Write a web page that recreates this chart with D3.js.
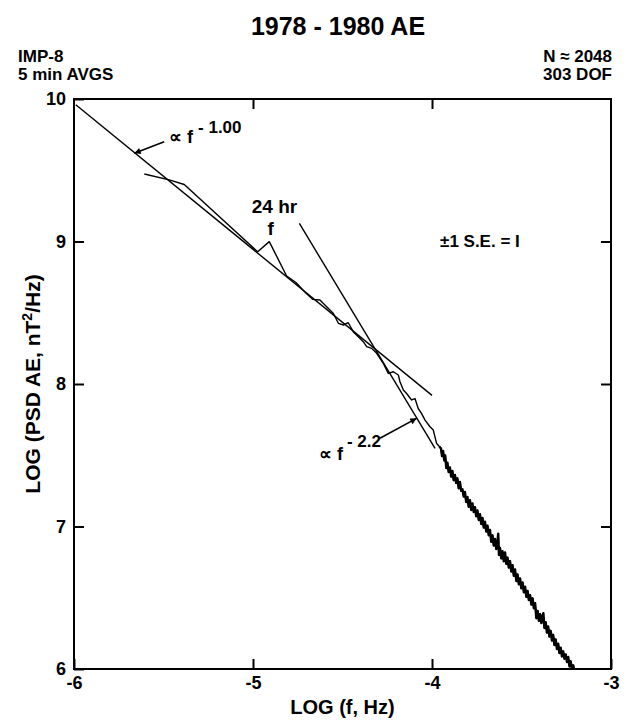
<!DOCTYPE html>
<html>
<head>
<meta charset="utf-8">
<script src="https://cdn.jsdelivr.net/npm/d3@7"></script>
<style>
  body { margin: 0; background: #fff; }
  svg text { font-family: "Liberation Sans", Arial, sans-serif; font-weight: bold; fill: #000; }
</style>
</head>
<body>
<script>
// spectrum (log10 f in Hz, log10 PSD in nT^2/Hz)
var logFreq = [
  -5.607, -5.468, -5.384, -4.974, -4.909, -4.812, -4.760, -4.712, -4.667, -4.626,
  -4.598, -4.551, -4.523, -4.495, -4.468, -4.440, -4.384, -4.365, -4.337, -4.309,
  -4.272, -4.244, -4.216, -4.188, -4.179, -4.160, -4.142, -4.114, -4.095, -4.077,
  -4.058, -4.039, -4.011, -3.993, -3.974, -3.958,
  -3.950, -3.944, -3.938, -3.931, -3.926, -3.920, -3.914, -3.907, -3.900, -3.893,
  -3.886, -3.879, -3.872, -3.865, -3.858, -3.851, -3.844, -3.837, -3.830, -3.823,
  -3.816, -3.809, -3.802, -3.795, -3.788, -3.781, -3.774, -3.767, -3.760, -3.753,
  -3.746, -3.739, -3.732, -3.725, -3.718, -3.711, -3.704, -3.697, -3.690, -3.683,
  -3.676, -3.669, -3.662, -3.655, -3.648, -3.641, -3.635, -3.630, -3.626, -3.620,
  -3.613, -3.606, -3.599, -3.592, -3.585, -3.578, -3.571, -3.564, -3.557, -3.550,
  -3.543, -3.536, -3.529, -3.522, -3.515, -3.508, -3.501, -3.494, -3.487, -3.480,
  -3.473, -3.466, -3.459, -3.452, -3.445, -3.438, -3.431, -3.424, -3.417, -3.410,
  -3.403, -3.396, -3.389, -3.383, -3.378, -3.372, -3.365, -3.358, -3.351, -3.344,
  -3.337, -3.330, -3.323, -3.316, -3.309, -3.302, -3.295, -3.288, -3.281, -3.274,
  -3.267, -3.260, -3.253, -3.246, -3.239, -3.232, -3.225, -3.218, -3.211, -3.204
];
var logPsd = [
  9.474, 9.432, 9.400, 8.928, 8.999, 8.758, 8.712, 8.648, 8.594, 8.589,
  8.554, 8.495, 8.426, 8.414, 8.430, 8.367, 8.297, 8.262, 8.250, 8.215,
  8.145, 8.074, 8.086, 8.063, 8.016, 7.958, 7.933, 7.888, 7.898, 7.828,
  7.792, 7.747, 7.700, 7.677, 7.582, 7.560,
  7.548, 7.495, 7.530, 7.462, 7.498, 7.410, 7.448, 7.382, 7.415, 7.350,
  7.390, 7.325, 7.362, 7.305, 7.338, 7.268, 7.312, 7.250, 7.262, 7.210,
  7.242, 7.172, 7.208, 7.138, 7.184, 7.116, 7.162, 7.102, 7.135, 7.072,
  7.112, 7.046, 7.086, 7.018, 7.060, 6.992, 7.034, 6.965, 7.006, 6.938,
  6.976, 6.892, 6.938, 6.866, 6.912, 6.842, 6.886, 6.950, 6.800, 6.850,
  6.776, 6.826, 6.756, 6.818, 6.738, 6.782, 6.712, 6.756, 6.684, 6.728,
  6.654, 6.698, 6.618, 6.664, 6.594, 6.636, 6.566, 6.608, 6.538, 6.578,
  6.506, 6.548, 6.484, 6.518, 6.452, 6.496, 6.426, 6.462, 6.356, 6.408,
  6.338, 6.384, 6.322, 6.366, 6.392, 6.288, 6.328, 6.255, 6.298, 6.228,
  6.268, 6.200, 6.240, 6.168, 6.208, 6.140, 6.178, 6.112, 6.150, 6.088,
  6.124, 6.072, 6.102, 6.048, 6.084, 6.018, 6.054, 5.996, 6.026, 5.980
];

// power-law fits drawn on the figure
var fitLowFreq = [-5.99, -4.0];      // ~ f^-1.00
var fitLowPsd = [9.96, 7.92];
var fitHighFreq = [-4.741, -3.983];  // ~ f^-2.2
var fitHighPsd = [9.127, 7.548];

var xTicks = [-6, -5, -4, -3];
var yTicks = [6, 7, 8, 9, 10];

var margin = { top: 99, right: 19, bottom: 53, left: 74 };
var W = 630, H = 722;
var width = W - margin.left - margin.right;
var height = H - margin.top - margin.bottom;

var x = d3.scaleLinear().domain([-6, -3]).range([0, width]);
var y = d3.scaleLinear().domain([6, 10]).range([height, 0]);

var svg = d3.select("body").append("svg")
  .attr("width", W)
  .attr("height", H);

var g = svg.append("g")
  .attr("transform", "translate(" + margin.left + "," + margin.top + ")");

svg.append("defs").append("clipPath").attr("id", "plot")
  .append("rect").attr("width", width).attr("height", height);

svg.select("defs").append("marker")
  .attr("id", "head")
  .attr("viewBox", "0 0 10 10")
  .attr("refX", 10).attr("refY", 5)
  .attr("markerWidth", 6).attr("markerHeight", 4)
  .attr("orient", "auto")
  .append("path").attr("d", "M0,0L10,5L0,10z").attr("fill", "#000");

var fmt = function (d) { return String(d); };

// axes, ticks pointing inward
var xAxis = d3.axisBottom(x).tickValues(xTicks).tickFormat(fmt).tickSize(-10).tickSizeOuter(0).tickPadding(7);
var yAxis = d3.axisLeft(y).tickValues(yTicks).tickFormat(fmt).tickSize(-10).tickSizeOuter(0).tickPadding(8);

g.append("g").attr("class", "x axis")
  .attr("transform", "translate(0," + height + ")")
  .call(xAxis);
g.append("g").attr("class", "y axis").call(yAxis);
g.append("g").attr("class", "x2 axis")
  .call(d3.axisTop(x).tickValues([-5, -4]).tickFormat("").tickSize(-10).tickSizeOuter(0));
g.append("g").attr("class", "y2 axis")
  .attr("transform", "translate(" + width + ",0)")
  .call(d3.axisRight(y).tickValues([7, 8, 9]).tickFormat("").tickSize(-10).tickSizeOuter(0));

g.selectAll(".axis .domain").remove();
g.selectAll(".axis line").attr("stroke", "#000").attr("stroke-width", 2);
g.selectAll(".axis text").style("font-size", "18px").attr("fill", "#000");

g.append("rect")
  .attr("width", width).attr("height", height)
  .attr("fill", "none").attr("stroke", "#000").attr("stroke-width", 2);

// fits
var line = d3.line()
  .x(function (d) { return x(d[0]); })
  .y(function (d) { return y(d[1]); });

g.append("path")
  .datum(d3.zip(fitLowFreq, fitLowPsd))
  .attr("d", line)
  .attr("fill", "none").attr("stroke", "#000").attr("stroke-width", 1.4);

g.append("path")
  .datum(d3.zip(fitHighFreq, fitHighPsd))
  .attr("d", line)
  .attr("fill", "none").attr("stroke", "#000").attr("stroke-width", 1.4);

// spectrum
var spec = d3.zip(logFreq, logPsd);
g.append("path")
  .datum(spec)
  .attr("clip-path", "url(#plot)")
  .attr("d", line)
  .attr("fill", "none").attr("stroke", "#000").attr("stroke-width", 1.4)
  .attr("stroke-linejoin", "round");

// the noisy high-frequency tail prints as a heavier band
g.append("path")
  .datum(spec.filter(function (d) { return d[0] > -3.96; }))
  .attr("clip-path", "url(#plot)")
  .attr("d", line)
  .attr("fill", "none").attr("stroke", "#000").attr("stroke-width", 2.4)
  .attr("stroke-linejoin", "round");

// annotations
function label(px, py, txt, size, anchor) {
  return g.append("text")
    .attr("x", x(px)).attr("y", y(py))
    .attr("text-anchor", anchor || "start")
    .style("font-size", size + "px")
    .text(txt);
}

label(-5.469, 9.691, "\u221D f", 18);
label(-5.307, 9.763, "- 1.00", 17);
g.append("line")
  .attr("x1", x(-5.496)).attr("y1", y(9.700))
  .attr("x2", x(-5.663)).attr("y2", y(9.619))
  .attr("stroke", "#000").attr("stroke-width", 1.6)
  .attr("marker-end", "url(#head)");

label(-4.880, 9.200, "24 hr", 19, "middle");
label(-4.902, 9.046, "f", 19, "middle");

label(-3.955, 8.961, "\u00B11 S.E. = I", 17);

label(-4.497, 7.467, "\u221D f", 18, "end");
label(-4.475, 7.558, "- 2.2", 17);
g.append("line")
  .attr("x1", x(-4.291)).attr("y1", y(7.619))
  .attr("x2", x(-4.086)).attr("y2", y(7.759))
  .attr("stroke", "#000").attr("stroke-width", 1.6)
  .attr("marker-end", "url(#head)");

// titles
svg.append("text")
  .attr("x", 338).attr("y", 35)
  .attr("text-anchor", "middle")
  .style("font-size", "25px")
  .text("1978 - 1980 AE");

svg.append("text").attr("x", 18).attr("y", 62).style("font-size", "17px").text("IMP-8");
svg.append("text").attr("x", 18).attr("y", 80).style("font-size", "17px").text("5 min AVGS");
svg.append("text").attr("x", 612).attr("y", 62).attr("text-anchor", "end").style("font-size", "17px").text("N \u2248 2048");
svg.append("text").attr("x", 612).attr("y", 80).attr("text-anchor", "end").style("font-size", "17px").text("303 DOF");

svg.append("text")
  .attr("x", margin.left + width / 2).attr("y", 714)
  .attr("text-anchor", "middle")
  .style("font-size", "20px")
  .text("LOG (f, Hz)");

var yl = svg.append("text")
  .attr("transform", "translate(40," + (margin.top + height / 2) + ") rotate(-90)")
  .attr("text-anchor", "middle")
  .style("font-size", "21px");
yl.append("tspan").text("LOG (PSD AE, nT");
yl.append("tspan").attr("dy", -8).style("font-size", "14px").text("2");
yl.append("tspan").attr("dy", 8).text("/Hz)");
</script>
</body>
</html>
